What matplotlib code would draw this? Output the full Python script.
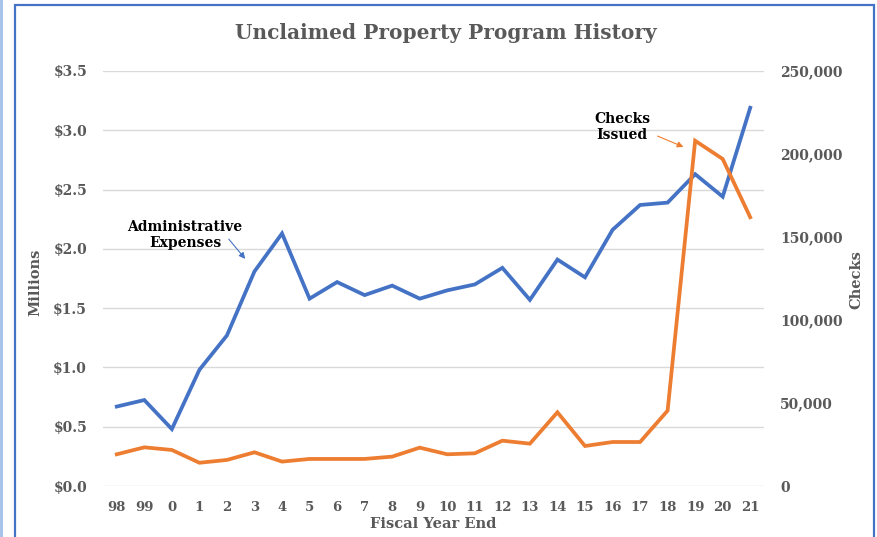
import matplotlib.pyplot as plt
import numpy as np
from matplotlib.patches import Rectangle
from matplotlib.ticker import FuncFormatter

years = ['98', '99', '0', '1', '2', '3', '4', '5', '6', '7', '8', '9', '10',
         '11', '12', '13', '14', '15', '16', '17', '18', '19', '20', '21']
admin_millions = [0.67, 0.725, 0.48, 0.98, 1.27, 1.81, 2.13, 1.58, 1.72, 1.61,
                  1.69, 1.58, 1.65, 1.70, 1.84, 1.57, 1.91, 1.76, 2.16, 2.37,
                  2.39, 2.63, 2.44, 3.19]
checks = [19100, 23300, 21700, 14000, 15700, 20300, 14700, 16300, 16300, 16300,
          17700, 23100, 19100, 19700, 27300, 25500, 44400, 24100, 26500, 26500,
          45400, 208000, 197000, 161900]

blue = '#4472C4'
orange = '#ED7D31'
gray = '#595959'
serif = 'DejaVu Serif'

fig = plt.figure(figsize=(8.77, 5.37), dpi=100)
ax = fig.add_axes([103/877, 51/537, 661/877, 415/537])
ax2 = ax.twinx()

x = np.arange(len(years))
ax.plot(x, admin_millions, color=blue, lw=2.7, solid_joinstyle='miter', zorder=3)
ax2.plot(x, checks, color=orange, lw=2.7, solid_joinstyle='miter', zorder=3)

ax.set_xlim(-0.5, len(years) - 0.5)
ax.set_ylim(0, 3.5)
ax.set_yticks(np.arange(0, 3.51, 0.5))
ax.yaxis.set_major_formatter(FuncFormatter(lambda v, p: '$%.1f' % v))
ax2.set_ylim(0, 250000)
ax2.set_yticks(np.arange(0, 250001, 50000))
ax2.yaxis.set_major_formatter(FuncFormatter(lambda v, p: '{:,.0f}'.format(v)))

ax.set_xticks(x)
ax.set_xticklabels(years)
ax.grid(axis='y', color='#D9D9D9', lw=1)
ax.set_axisbelow(True)

for a in (ax, ax2):
    for s in a.spines.values():
        s.set_visible(False)
    a.tick_params(length=0, labelcolor=gray)
ax.tick_params(axis='y', pad=11.5)
ax2.tick_params(axis='y', pad=11.5)
ax.tick_params(axis='x', pad=11)

for lab in ax.get_yticklabels() + ax2.get_yticklabels():
    lab.set_fontfamily(serif)
    lab.set_fontweight('bold')
    lab.set_fontsize(10)
for lab in ax.get_xticklabels():
    lab.set_fontfamily(serif)
    lab.set_fontweight('bold')
    lab.set_fontsize(9.5)

fig.text(35/877, 1 - 282/537, 'Millions', rotation=90, ha='center', va='center',
         color=gray, fontfamily=serif, fontweight='bold', fontsize=10.5)
fig.text(856/877, 1 - 280/537, 'Checks', rotation=90, ha='center', va='center',
         color=gray, fontfamily=serif, fontweight='bold', fontsize=10.5)
fig.text(433/877, 1 - 524/537, 'Fiscal Year End', ha='center', va='center',
         color=gray, fontfamily=serif, fontweight='bold', fontsize=10.5)
fig.text(446/877, 1 - 33/537, 'Unclaimed Property Program History', ha='center',
         va='center', color=gray, fontfamily=serif, fontweight='bold', fontsize=14.5)

fig.text(185/877, 1 - 235/537, 'Administrative\nExpenses', ha='center', va='center',
         color='black', fontfamily=serif, fontweight='bold', fontsize=10,
         linespacing=1.25)
fig.text(622/877, 1 - 127/537, 'Checks\nIssued', ha='center', va='center',
         color='black', fontfamily=serif, fontweight='bold', fontsize=10,
         linespacing=1.25)
ax.annotate('', xy=(247, 537 - 261), xycoords='figure pixels',
            xytext=(227, 537 - 237), textcoords='figure pixels',
            arrowprops=dict(arrowstyle='-|>', color=blue, lw=0.8, mutation_scale=9))
ax.annotate('', xy=(686, 537 - 148), xycoords='figure pixels',
            xytext=(655, 537 - 135), textcoords='figure pixels',
            arrowprops=dict(arrowstyle='-|>', color=orange, lw=0.8, mutation_scale=9))

fig.patches.append(Rectangle((15/877, -0.05), 859/877, 1.05 - 5/537,
                             transform=fig.transFigure, fill=False,
                             edgecolor=blue, lw=1.6))
fig.patches.append(Rectangle((0, 0), 3/877, 1, transform=fig.transFigure,
                             color='#A9C4EB', lw=0))

fig.savefig('out.png', dpi=100)
